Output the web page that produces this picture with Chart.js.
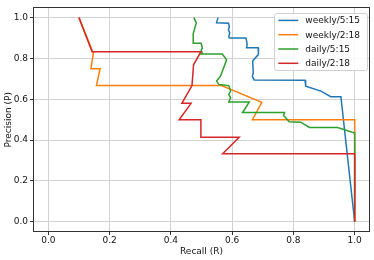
<!DOCTYPE html>
<html>
<head>
<meta charset="utf-8">
<script src="https://cdn.jsdelivr.net/npm/chart.js@4.4.1/dist/chart.umd.min.js"></script>
<style>
  html, body { margin: 0; padding: 0; background: #fff; }
  #wrap { width: 374px; height: 260px; }
</style>
</head>
<body>
<div id="wrap"><canvas id="myChart" width="374" height="260"></canvas></div>
<script>
// tick labels
const xTicks = [0.0, 0.2, 0.4, 0.6, 0.8, 1.0];
const yTicks = [0.0, 0.2, 0.4, 0.6, 0.8, 1.0];

// series (recall, precision)
const weekly515R = [0.554, 0.549, 0.588, 0.591, 0.588, 0.592, 0.589, 0.592, 0.645, 0.647, 0.649, 0.647, 0.685, 0.686, 0.667, 0.669, 0.666, 0.672, 0.838, 0.840, 0.890, 0.922, 0.955, 1.0];
const weekly515P = [1.0, 0.975, 0.972, 0.955, 0.940, 0.925, 0.906, 0.900, 0.900, 0.887, 0.868, 0.852, 0.852, 0.820, 0.787, 0.730, 0.712, 0.695, 0.693, 0.664, 0.640, 0.613, 0.613, 0.0];

const weekly218R = [0.1, 0.145, 0.148, 0.139, 0.169, 0.157, 0.565, 0.697, 0.666, 1.0, 1.0];
const weekly218P = [1.0, 0.833, 0.833, 0.750, 0.750, 0.667, 0.667, 0.585, 0.500, 0.500, 0.0];

const daily515R = [0.475, 0.483, 0.473, 0.473, 0.499, 0.503, 0.499, 0.502, 0.499, 0.568, 0.582, 0.562, 0.549, 0.557, 0.589, 0.595, 0.589, 0.595, 0.589, 0.656, 0.634, 0.771, 0.768, 0.775, 0.786, 0.824, 0.852, 0.944, 1.0, 1.0];
const daily515P = [1.0, 0.974, 0.922, 0.874, 0.874, 0.850, 0.842, 0.830, 0.822, 0.822, 0.793, 0.713, 0.689, 0.672, 0.667, 0.640, 0.624, 0.608, 0.587, 0.587, 0.535, 0.535, 0.520, 0.510, 0.490, 0.488, 0.462, 0.462, 0.435, 0.0];

const daily218R = [0.1, 0.143, 0.498, 0.474, 0.469, 0.436, 0.466, 0.427, 0.498, 0.498, 0.623, 0.569, 1.0, 1.0];
const daily218P = [1.0, 0.833, 0.833, 0.769, 0.667, 0.580, 0.580, 0.500, 0.500, 0.414, 0.414, 0.333, 0.333, 0.0];

const seriesNames = ["weekly/5:15", "weekly/2:18", "daily/5:15", "daily/2:18"];
const seriesColors = ["#1f77b4", "#ff7f0e", "#2ca02c", "#d62728"];

function zip(r, p) {
  return r.map((x, i) => ({ x: x, y: p[i] }));
}

const allR = [weekly515R, weekly218R, daily515R, daily218R];
const allP = [weekly515P, weekly218P, daily515P, daily218P];

const FONT = "'DejaVu Sans', sans-serif";

// frame round the plot area, like matplotlib spines
const framePlugin = {
  id: "frame",
  afterDatasetsDraw(chart) {
    const { ctx, chartArea: a } = chart;
    ctx.save();
    ctx.strokeStyle = "#333";
    ctx.lineWidth = 1;
    ctx.strokeRect(Math.round(a.left) + 0.5, Math.round(a.top) + 0.5,
      Math.round(a.right - a.left) - 1, Math.round(a.bottom - a.top) - 1);
    ctx.restore();
  }
};

// legend box inside the plot, upper right
const legendPlugin = {
  id: "boxLegend",
  afterDraw(chart) {
    const { ctx, chartArea: a } = chart;
    const sets = chart.data.datasets;
    ctx.save();
    ctx.font = "9px " + FONT;
    let textW = 0;
    sets.forEach((d) => { textW = Math.max(textW, ctx.measureText(d.label).width); });
    const padL = 4, lineLen = 20, gap = 7, padR = 7, padT = 6, rowH = 14.3;
    const w = padL + lineLen + gap + textW + padR;
    const h = padT * 2 + rowH * (sets.length - 1) + 2;
    const x0 = a.right - 3 - w;
    const y0 = a.top + 6;
    ctx.fillStyle = "rgba(255,255,255,0.85)";
    ctx.strokeStyle = "#d0d0d0";
    ctx.lineWidth = 1;
    ctx.beginPath();
    ctx.roundRect(Math.round(x0) + 0.5, Math.round(y0) + 0.5, Math.round(w), Math.round(h), 2);
    ctx.fill();
    ctx.stroke();
    ctx.textBaseline = "middle";
    sets.forEach((d, i) => {
      const cy = y0 + padT + 1 + rowH * i;
      ctx.strokeStyle = d.borderColor;
      ctx.lineWidth = 1.5;
      ctx.beginPath();
      ctx.moveTo(x0 + padL, cy);
      ctx.lineTo(x0 + padL + lineLen, cy);
      ctx.stroke();
      ctx.fillStyle = "#111";
      ctx.fillText(d.label, x0 + padL + lineLen + gap, cy + 0.5);
    });
    ctx.restore();
  }
};

const datasets = seriesNames.map((name, i) => ({
  label: name,
  data: zip(allR[i], allP[i]),
  borderColor: seriesColors[i],
  backgroundColor: seriesColors[i],
  borderWidth: 1.5,
  pointRadius: 0,
  tension: 0,
  fill: false,
  order: seriesNames.length - i
}));

function fixedTicks(values) {
  return (scale) => { scale.ticks = values.map((v) => ({ value: v })); };
}

new Chart(document.getElementById("myChart"), {
  type: "line",
  data: { datasets: datasets },
  options: {
    responsive: false,
    animation: false,
    devicePixelRatio: 1,
    layout: { padding: { top: 3, right: 4, left: 0, bottom: 0 } },
    plugins: {
      legend: { display: false },
      tooltip: { enabled: false }
    },
    scales: {
      x: {
        type: "linear",
        min: -0.05,
        max: 1.05,
        afterBuildTicks: fixedTicks(xTicks),
        afterFit: (s) => { s.height = 28; },
        border: { display: false },
        grid: { color: "#d2d2d2", lineWidth: 1, tickColor: "#333", tickLength: 3 },
        ticks: {
          color: "#111",
          padding: 0,
          maxRotation: 0,
          font: { family: FONT, size: 9 },
          callback: (v) => v.toFixed(1)
        },
        title: {
          display: true,
          text: "Recall (R)",
          color: "#111",
          font: { family: FONT, size: 9 },
          padding: { top: 0, bottom: 3 }
        }
      },
      y: {
        type: "linear",
        min: -0.05,
        max: 1.05,
        afterBuildTicks: fixedTicks(yTicks),
        afterFit: (s) => { s.width = 33; },
        border: { display: false },
        grid: { color: "#d2d2d2", lineWidth: 1, tickColor: "#333", tickLength: 3 },
        ticks: {
          color: "#111",
          padding: 2,
          font: { family: FONT, size: 9 },
          callback: (v) => v.toFixed(1)
        },
        title: {
          display: true,
          text: "Precision (P)",
          color: "#111",
          font: { family: FONT, size: 9 },
          padding: { top: 3, bottom: 0 }
        }
      }
    }
  },
  plugins: [framePlugin, legendPlugin]
});
</script>
</body>
</html>
